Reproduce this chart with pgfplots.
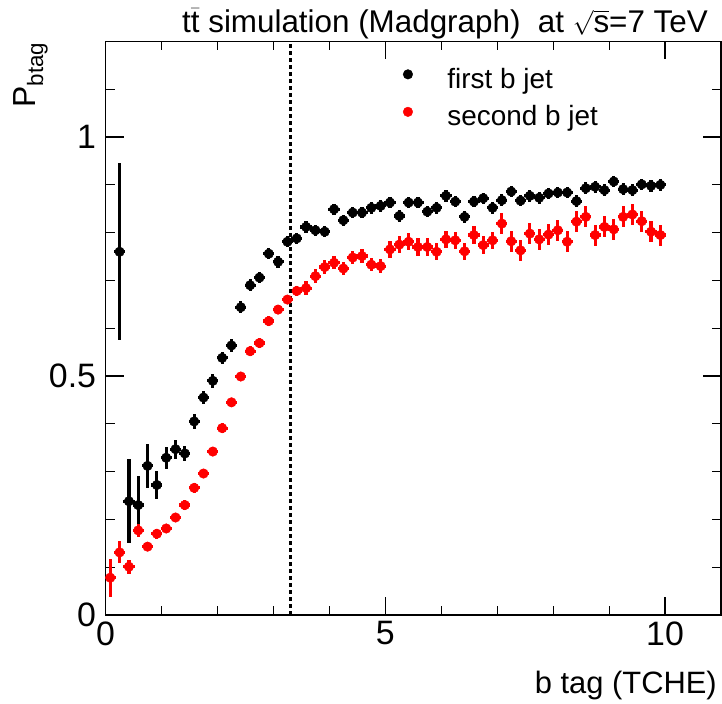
\documentclass[border=0pt]{standalone}
\usepackage{pgfplots}
\usepackage{pgfplotstable}
\pgfplotsset{compat=1.18}
\usepackage{amsmath}
\usepackage{fontspec}
\setmainfont{Liberation Sans}

\pgfplotstableread{
x y ex ey
0.25 0.760 0.1 0.185
0.4167 0.238 0.1 0.088
0.5833 0.230 0.1 0.06
0.75 0.312 0.1 0.046
0.9167 0.272 0.1 0.030
1.0833 0.329 0.1 0.023
1.25 0.347 0.1 0.020
1.4167 0.338 0.1 0.016
1.5833 0.405 0.1 0.015
1.75 0.455 0.1 0.014
1.9167 0.490 0.1 0.014
2.0833 0.538 0.1 0.013
2.25 0.564 0.1 0.013
2.4167 0.644 0.1 0.013
2.5833 0.690 0.1 0.012
2.75 0.706 0.1 0.012
2.9167 0.756 0.1 0.012
3.0833 0.739 0.1 0.012
3.25 0.781 0.1 0.012
3.4167 0.788 0.1 0.012
3.5833 0.812 0.1 0.012
3.75 0.805 0.1 0.012
3.9167 0.802 0.1 0.012
4.0833 0.849 0.1 0.012
4.25 0.826 0.1 0.012
4.4167 0.842 0.1 0.012
4.5833 0.842 0.1 0.012
4.75 0.852 0.1 0.012
4.9167 0.856 0.1 0.012
5.0833 0.863 0.1 0.012
5.25 0.835 0.1 0.012
5.4167 0.863 0.1 0.012
5.5833 0.863 0.1 0.012
5.75 0.844 0.1 0.012
5.9167 0.852 0.1 0.012
6.0833 0.877 0.1 0.012
6.25 0.865 0.1 0.012
6.4167 0.833 0.1 0.012
6.5833 0.865 0.1 0.012
6.75 0.872 0.1 0.012
6.9167 0.852 0.1 0.012
7.0833 0.868 0.1 0.012
7.25 0.886 0.1 0.012
7.4167 0.867 0.1 0.012
7.5833 0.877 0.1 0.012
7.75 0.873 0.1 0.012
7.9167 0.882 0.1 0.012
8.0833 0.884 0.1 0.012
8.25 0.884 0.1 0.012
8.4167 0.866 0.1 0.012
8.5833 0.893 0.1 0.012
8.75 0.896 0.1 0.012
8.9167 0.889 0.1 0.012
9.0833 0.907 0.1 0.012
9.25 0.891 0.1 0.012
9.4167 0.889 0.1 0.012
9.5833 0.901 0.1 0.012
9.75 0.898 0.1 0.012
9.9167 0.900 0.1 0.012
}\firstjet

\pgfplotstableread{
x y ex ey
0.0833 0.078 0.1 0.040
0.25 0.131 0.1 0.023
0.4167 0.101 0.1 0.015
0.5833 0.177 0.1 0.014
0.75 0.143 0.1 0.010
0.9167 0.170 0.1 0.010
1.0833 0.181 0.1 0.010
1.25 0.204 0.1 0.010
1.4167 0.230 0.1 0.010
1.5833 0.266 0.1 0.010
1.75 0.296 0.1 0.010
1.9167 0.342 0.1 0.010
2.0833 0.391 0.1 0.010
2.25 0.445 0.1 0.010
2.4167 0.499 0.1 0.010
2.5833 0.552 0.1 0.010
2.75 0.569 0.1 0.010
2.9167 0.615 0.1 0.010
3.0833 0.639 0.1 0.010
3.25 0.660 0.1 0.010
3.4167 0.678 0.1 0.010
3.5833 0.684 0.1 0.014
3.75 0.709 0.1 0.014
3.9167 0.728 0.1 0.014
4.0833 0.737 0.1 0.014
4.25 0.725 0.1 0.014
4.4167 0.748 0.1 0.014
4.5833 0.751 0.1 0.014
4.75 0.733 0.1 0.014
4.9167 0.730 0.1 0.014
5.0833 0.765 0.1 0.018
5.25 0.775 0.1 0.018
5.4167 0.781 0.1 0.018
5.5833 0.770 0.1 0.018
5.75 0.770 0.1 0.018
5.9167 0.760 0.1 0.018
6.0833 0.786 0.1 0.018
6.25 0.784 0.1 0.018
6.4167 0.761 0.1 0.018
6.5833 0.795 0.1 0.018
6.75 0.774 0.1 0.018
6.9167 0.784 0.1 0.018
7.0833 0.819 0.1 0.022
7.25 0.782 0.1 0.022
7.4167 0.763 0.1 0.022
7.5833 0.798 0.1 0.022
7.75 0.786 0.1 0.022
7.9167 0.796 0.1 0.022
8.0833 0.805 0.1 0.022
8.25 0.781 0.1 0.022
8.4167 0.823 0.1 0.022
8.5833 0.833 0.1 0.022
8.75 0.795 0.1 0.022
8.9167 0.812 0.1 0.022
9.0833 0.807 0.1 0.022
9.25 0.833 0.1 0.022
9.4167 0.838 0.1 0.022
9.5833 0.824 0.1 0.022
9.75 0.802 0.1 0.022
9.9167 0.795 0.1 0.022
}\secondjet

\begin{document}
\begin{tikzpicture}
\path[use as bounding box] (-105.6bp,-89bp) rectangle (616.4bp,615bp);
\begin{axis}[
  at={(0,0)}, anchor=south west, scale only axis,
  width=615.4bp, height=573.5bp,
  xmin=0, xmax=11, ymin=0, ymax=1.2,
  xtick={0,5,10}, ytick={0,0.5,1},
  minor xtick={1,2,3,4,6,7,8,9},
  minor ytick={0.1,0.2,0.3,0.4,0.6,0.7,0.8,0.9,1.1},
  tick align=inside,
  major tick length=18bp, minor tick length=9bp,
  axis line style={line width=1.5bp},
  every tick/.style={black, line width=1.2bp},
  tick label style={font=\fontsize{34}{34}\selectfont},
  /pgf/number format/assume math mode=true,
  xticklabel style={anchor=north, yshift=-3bp},
  yticklabel style={anchor=east, xshift=-6bp},
  legend style={at={(rel axis cs:0.478,0.957)}, anchor=north west, draw=none, fill=none,
    font=\fontsize{28}{28}\selectfont, row sep=11.5bp,
    nodes={inner sep=0pt, text height=20bp, text depth=6bp}},
  legend cell align=left,
  legend image code/.code={\fill (4.5bp,7bp) circle (4.8bp); \path[draw=none] (0bp,7bp) -- (44bp,7bp);},
]
\addplot[black, only marks, mark=*, mark size=4.8bp,
  error bars/.cd, x dir=both, x explicit, y dir=both, y explicit, error mark=none,
  error bar style={line width=3.2bp, black}]
  table[x=x, y=y, x error=ex, y error=ey] {\firstjet};
\addlegendentry{first b jet}
\addplot[red, only marks, mark=*, mark size=4.8bp, mark options={fill=red, draw=red},
  error bars/.cd, x dir=both, x explicit, y dir=both, y explicit, error mark=none,
  error bar style={line width=3.2bp, red}]
  table[x=x, y=y, x error=ex, y error=ey] {\secondjet};
\addlegendentry{second b jet}
\addplot[black, line width=3bp, dash pattern=on 4bp off 3bp, forget plot]
  coordinates {(3.3,0) (3.3,1.2)};
\end{axis}
\node[anchor=base east, font=\fontsize{31.5}{31.5}\selectfont, inner sep=0pt]
  at (602.4bp,582.5bp)
  {t$\bar{\text{t}}$ simulation (Madgraph)\ \ at $\smash{\sqrt{\text{s}}}$=7 TeV};
\node[anchor=base east, font=\fontsize{31}{31}\selectfont, inner sep=0pt]
  at (611.4bp,-78bp) {b tag (TCHE)};
\node[anchor=base east, rotate=90, font=\fontsize{32}{32}\selectfont, inner sep=0pt]
  at (-70bp,573bp) {P$_{\text{btag}}$};
\end{tikzpicture}
\end{document}
